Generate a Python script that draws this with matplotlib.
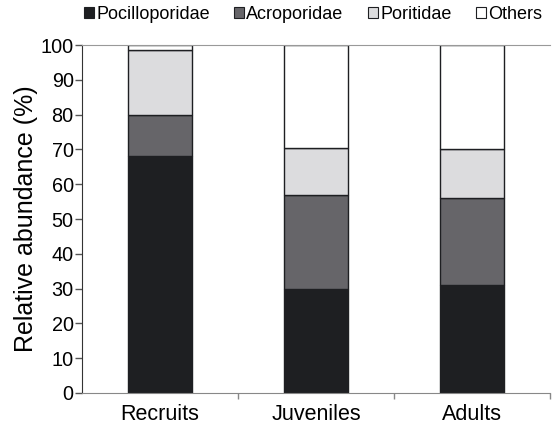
import numpy as np
import matplotlib
matplotlib.use("Agg")
import matplotlib.pyplot as plt
from matplotlib.patches import Patch

plt.rcParams['font.family'] = ['Liberation Sans', 'DejaVu Sans']

# data
stages = ['Recruits', 'Juveniles', 'Adults']
families = ['Pocilloporidae', 'Acroporidae', 'Poritidae', 'Others']
pocilloporidae = [68, 30, 31]
acroporidae = [12, 27, 25]
poritidae = [18.5, 13.5, 14]
others = [1.5, 29.5, 30]
colors = ['#1e1f22', '#666569', '#dcdcde', '#ffffff']

fig = plt.figure(figsize=(5.52, 4.25), dpi=100)
ax = fig.add_axes([0.1486, 0.0753, 0.848, 0.8187])

x = np.arange(len(stages))
bottom = np.zeros(len(stages))
for vals, col in zip([pocilloporidae, acroporidae, poritidae, others], colors):
    ax.bar(x, vals, width=0.41, bottom=bottom, color=col,
           edgecolor='#1e1f22', linewidth=1.0)
    bottom += np.array(vals)

ax.set_xlim(-0.5, 2.5)
ax.set_ylim(0, 100)
ax.set_yticks(range(0, 101, 10))
ax.set_xticks(x)
ax.set_xticklabels(stages)
ax.set_xticks([0.5, 1.5, 2.5], minor=True)
ax.tick_params(axis='y', labelsize=14.3, length=5, width=1, color='#555555', pad=1)
ax.tick_params(axis='x', which='major', labelsize=15.5, length=0, pad=8)
ax.tick_params(axis='x', which='minor', length=4, width=1, color='#888888')
ax.set_ylabel('Relative abundance (%)', fontsize=18, labelpad=2)

ax.spines['right'].set_visible(False)
ax.spines['top'].set_color('#999999')
ax.spines['bottom'].set_color('#888888')
ax.spines['left'].set_color('#333333')

handles = [Patch(facecolor=c, edgecolor='#1e1f22', linewidth=0.8) for c in colors]
fig.legend(handles, families, loc='upper center', bbox_to_anchor=(0.567, 1.025),
           ncol=4, frameon=False, fontsize=13, handlelength=0.55,
           handleheight=0.55, handletextpad=0.12, columnspacing=1.35)

fig.savefig('out.png', dpi=100)
